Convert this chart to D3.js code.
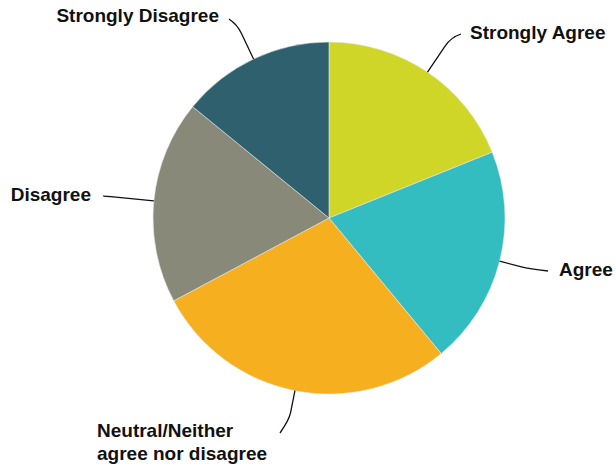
<!DOCTYPE html>
<html>
<head>
<meta charset="utf-8">
<script src="https://cdn.jsdelivr.net/npm/d3@7"></script>
<style>
  body { margin: 0; background: #fff; }
  text { font-family: "Liberation Sans", Arial, sans-serif; font-weight: bold; fill: #111; }
</style>
</head>
<body>
<div id="chart"></div>
<script>
// data
var categories = ["Strongly Agree", "Agree", "Neutral/Neither agree nor disagree", "Disagree", "Strongly Disagree"];
var values = [18.9, 20.1, 28.2, 18.7, 14.1];
var colors = ["#CFD627", "#33BDC0", "#F6AF1F", "#888978", "#2E606D"];
var labelLines = [["Strongly Agree"], ["Agree"], ["Neutral/Neither", "agree nor disagree"], ["Disagree"], ["Strongly Disagree"]];

var svgWidth = 616;
var svgHeight = 464;
var cx = 329, cy = 218, radius = 176;

var svg = d3.select("#chart")
  .append("svg")
  .attr("width", svgWidth)
  .attr("height", svgHeight);

var g = svg.append("g")
  .attr("transform", `translate(${cx}, ${cy})`);

var pie = d3.pie().sort(null).value(d => d);
var arcs = pie(values);

var arc = d3.arc().innerRadius(0).outerRadius(radius);

g.selectAll("path.slice")
  .data(arcs)
  .enter()
  .append("path")
  .attr("class", "slice")
  .attr("d", arc)
  .attr("fill", (d, i) => colors[i])
  .attr("stroke", "#e8e8e0")
  .attr("stroke-width", 0.6);

// label layout: leader length, end point offset and text placement (relative to centre)
var layout = [
  { len: 42, end: [132, -184], tx: 141, ty: -179, anchor: "start" },
  { len: 30, end: [219, 53], tx: 230, ty: 58, anchor: "start" },
  { len: 30, end: [-49, 215], tx: -232, ty: 219, anchor: "start" },
  { len: 51, end: [-226, -22], tx: -238, ty: -17, anchor: "end" },
  { len: 38, end: [-100, -199], tx: -110, ty: -196, anchor: "end" }
];

arcs.forEach(function(d, i) {
  var a = (d.startAngle + d.endAngle) / 2;
  var sx = Math.sin(a), sy = -Math.cos(a);
  var L = layout[i];
  var p = d3.path();
  p.moveTo(sx * radius, sy * radius);
  var ex = sx * (radius + L.len), ey = sy * (radius + L.len);
  // straight part then a small bend to the label
  var bx = sx * (radius + L.len * 0.75), by = sy * (radius + L.len * 0.75);
  p.lineTo(bx, by);
  p.quadraticCurveTo(ex, ey, L.end[0], L.end[1]);
  g.append("path")
    .attr("d", p.toString())
    .attr("fill", "none")
    .attr("stroke", "#111")
    .attr("stroke-width", 1.3);

  var t = g.append("text")
    .attr("x", L.tx)
    .attr("y", L.ty)
    .attr("text-anchor", L.anchor)
    .style("font-size", "19px");
  labelLines[i].forEach(function(line, j) {
    t.append("tspan")
      .attr("x", L.tx)
      .attr("dy", j === 0 ? 0 : 23)
      .text(line);
  });
});
</script>
</body>
</html>
